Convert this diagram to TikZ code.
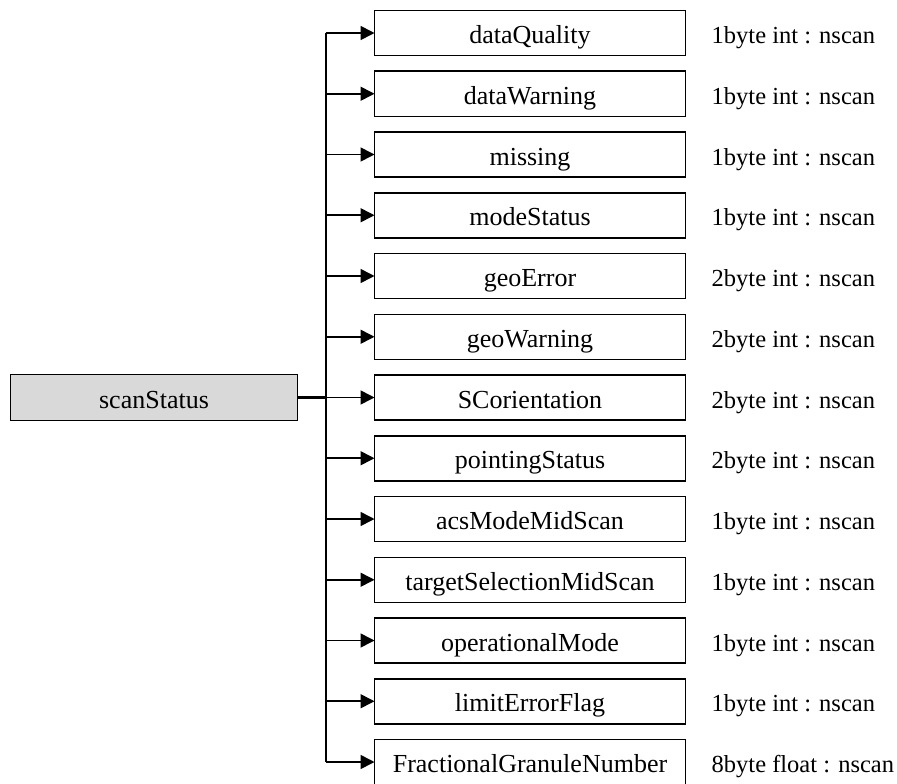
\documentclass[tikz,border=0pt]{standalone}
\usepackage{fontspec}
\setmainfont{Liberation Serif}
\usetikzlibrary{positioning}
\usetikzlibrary{arrows.meta}

\begin{document}
\begin{tikzpicture}
        [x=1pt, y=-1pt, node distance=15.75pt,
         every node/.style={font=\fontsize{26}{31}\selectfont, text height=21pt, text depth=0pt},
         field/.style={draw, line width=1.5pt, minimum width=311pt, minimum height=45pt, inner sep=0pt, outer sep=0pt},
         group/.style={field, fill=black!15, minimum width=287pt, minimum height=46pt},
         size/.style={inner sep=0pt, font=\fontsize{24.5}{29}\selectfont},
         link/.style={line width=1.6pt, -{Triangle[length=14pt,width=14pt]}}]
        \useasboundingbox (0,0) rectangle (897,784);
        \node [field] at (530,33) (d1) {dataQuality};
        \node [field, below=of d1] (d2) {dataWarning};
        \node [field, below=of d2] (d3) {missing};
        \node [field, below=of d3] (d4) {modeStatus};
        \node [field, below=of d4] (d5) {geoError};
        \node [field, below=of d5] (d6) {geoWarning};
        \node [field, below=of d6] (d7) {SCorientation};
        \node [field, below=of d7] (d8) {pointingStatus};
        \node [field, below=of d8] (d9) {acsModeMidScan};
        \node [field, below=of d9] (d10) {targetSelectionMidScan};
        \node [field, below=of d10] (d11) {operationalMode};
        \node [field, below=of d11] (d12) {limitErrorFlag};
        \node [field, below=of d12] (d13) {FractionalGranuleNumber};
        \node [group, left=77pt of d7] (s) {scanStatus};
        \coordinate [right=28pt of s] (j);
        \node [size, right=26pt of d1] (t1) {1byte int : nscan};
        \node [size, right=26pt of d2] (t2) {1byte int : nscan};
        \node [size, right=26pt of d3] (t3) {1byte int : nscan};
        \node [size, right=26pt of d4] (t4) {1byte int : nscan};
        \node [size, right=26pt of d5] (t5) {2byte int : nscan};
        \node [size, right=26pt of d6] (t6) {2byte int : nscan};
        \node [size, right=26pt of d7] (t7) {2byte int : nscan};
        \node [size, right=26pt of d8] (t8) {2byte int : nscan};
        \node [size, right=26pt of d9] (t9) {1byte int : nscan};
        \node [size, right=26pt of d10] (t10) {1byte int : nscan};
        \node [size, right=26pt of d11] (t11) {1byte int : nscan};
        \node [size, right=26pt of d12] (t12) {1byte int : nscan};
        \node [size, right=26pt of d13] (t13) {8byte float : nscan};
        \draw [line width=2.4pt] (s) -- (j);
        \draw [line width=2pt] (j |- d1) -- (j |- d13);
        \draw [link] (j |- d1) -- (d1);
        \draw [link] (j |- d2) -- (d2);
        \draw [link] (j |- d3) -- (d3);
        \draw [link] (j |- d4) -- (d4);
        \draw [link] (j |- d5) -- (d5);
        \draw [link] (j |- d6) -- (d6);
        \draw [link] (j |- d7) -- (d7);
        \draw [link] (j |- d8) -- (d8);
        \draw [link] (j |- d9) -- (d9);
        \draw [link] (j |- d10) -- (d10);
        \draw [link] (j |- d11) -- (d11);
        \draw [link] (j |- d12) -- (d12);
        \draw [link] (j |- d13) -- (d13);
    \end{tikzpicture}
\end{document}
